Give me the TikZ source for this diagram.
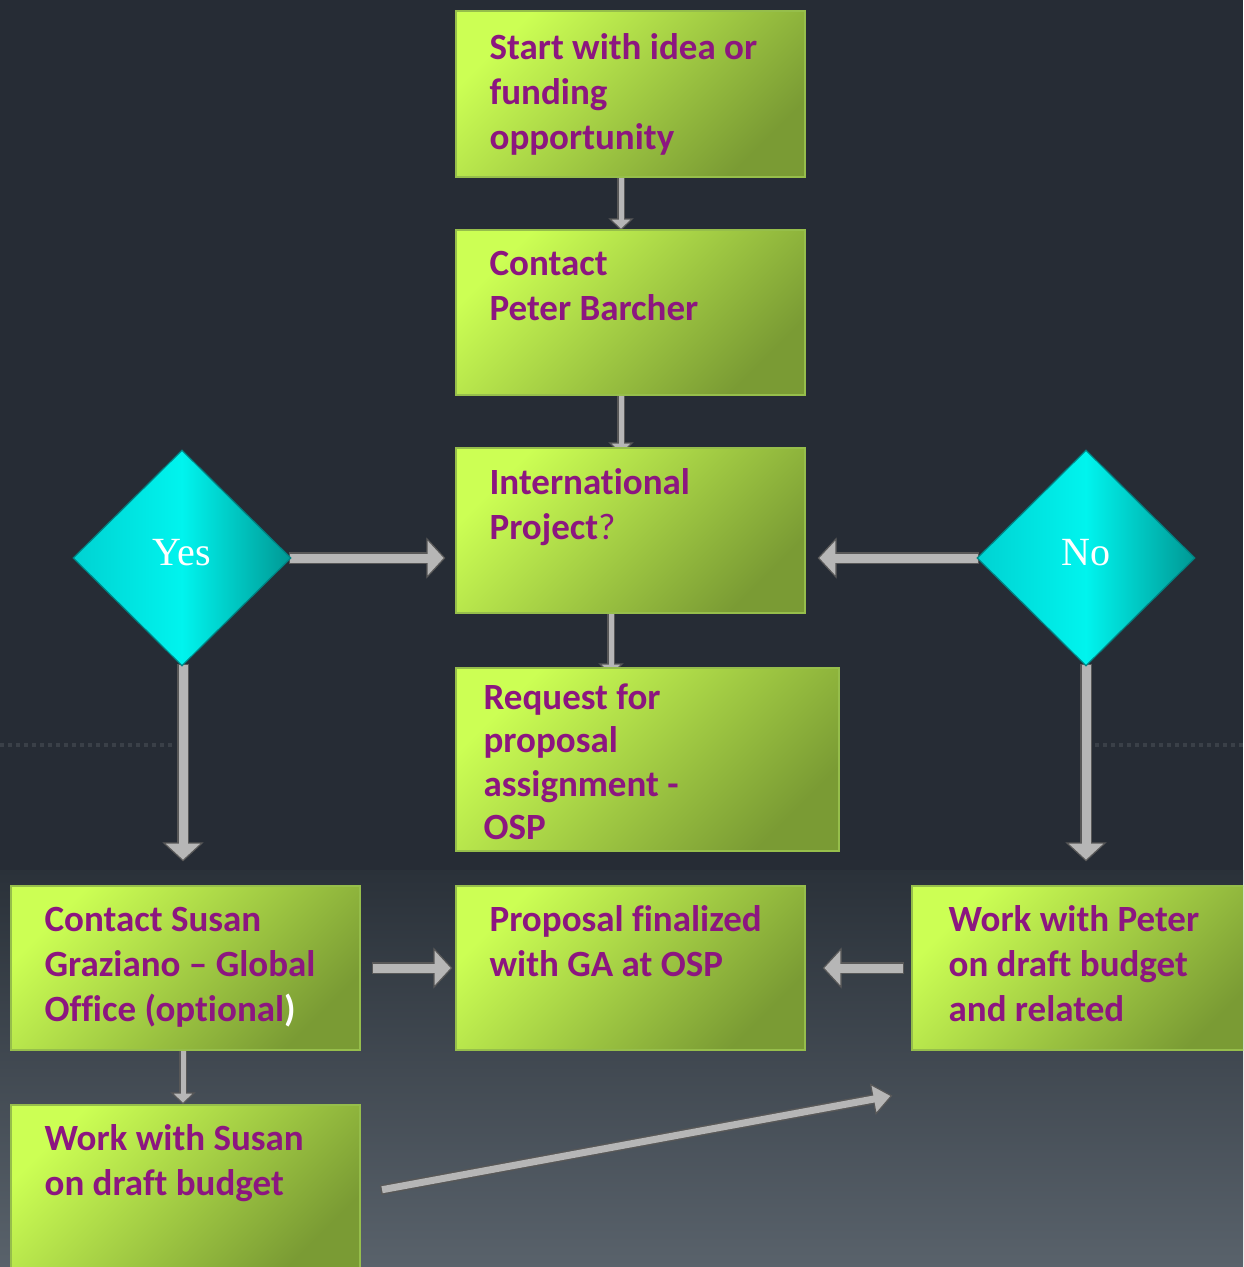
\documentclass[tikz,border=0pt]{standalone}
\usepackage{fontspec}
\setmainfont{Carlito}[Ligatures={TeX,NoCommon}]
\newfontfamily\serifyes{Liberation Serif}
\usetikzlibrary{shapes.geometric,arrows.meta,calc}
\pgfdeclarelayer{bglayer}
\pgfdeclarelayer{arrlayer}
\pgfsetlayers{bglayer,arrlayer,main}
\definecolor{bgdark}{RGB}{38,44,53}
\definecolor{bgmid}{RGB}{42,49,57}
\definecolor{bgbot}{RGB}{89,98,107}
\definecolor{dotc}{RGB}{58,64,72}
\definecolor{limeA}{RGB}{204,255,84}
\definecolor{limeB}{RGB}{122,155,52}
\definecolor{boxedge}{RGB}{150,190,75}
\definecolor{txtp}{RGB}{140,22,128}
\definecolor{cyanL}{RGB}{0,210,210}
\definecolor{cyanM}{RGB}{0,244,238}
\definecolor{cyanR}{RGB}{0,152,148}
\definecolor{cyanedge}{RGB}{0,130,130}
\definecolor{arrfill}{RGB}{182,182,182}
\definecolor{arredge}{RGB}{88,88,88}
\newcommand\barrow[6]{%
  \draw[arredge, line width=#1, -{Triangle[width=#3,length=#4,fill=arrfill,line width=1.2pt]}] #5 -- #6;
  \draw[arrfill, line width=#2, shorten <=1.5pt, shorten >=#4-3pt] #5 -- #6;}
\begin{document}
\begin{tikzpicture}[x=1pt,y=-1pt,
  box/.style={rectangle, draw=boxedge, line width=1.2pt, top color=limeA, bottom color=limeB, shading angle=45, inner sep=0pt},
  txt/.style={anchor=north west, inner sep=0pt, align=left, text=txtp, font=\fontsize{37}{45}\selectfont\bfseries},
  dia/.style={diamond, minimum width=218pt, minimum height=216pt, inner sep=0pt, left color=cyanL, right color=cyanR, middle color=cyanM, draw=cyanedge, line width=1.2pt, text=white, font=\serifyes\fontsize{40}{44}\selectfont, text height=27pt, text depth=13pt}
]
\useasboundingbox (0,0) rectangle (1243,1267);
\clip (0,0) rectangle (1243,1267);
% background
\begin{pgfonlayer}{bglayer}
\fill[bgdark] (0,0) rectangle (1243,871);
\shade[top color=bgmid, bottom color=bgbot] (0,870) rectangle (1243,1267);
\draw[dotc, line width=3.5pt, dash pattern=on 3.5pt off 4.5pt] (0,745) -- (175,745);
\draw[dotc, line width=3.5pt, dash pattern=on 3.5pt off 4.5pt] (1095,745) -- (1243,745);
\end{pgfonlayer}
% boxes
\node[box, minimum width=349pt, minimum height=166pt] (start) at (630.5,94) {};
\node[box, minimum width=349pt, minimum height=165pt] (contact) at (630.5,312.5) {};
\node[box, minimum width=349pt, minimum height=165pt] (intl) at (630.5,530.5) {};
\node[box, minimum width=383pt, minimum height=183pt] (request) at (647.5,759.5) {};
\node[box, minimum width=349pt, minimum height=164pt] (csusan) at (185.5,968) {};
\node[box, minimum width=349pt, minimum height=164pt] (prop) at (630.5,968) {};
\node[box, minimum width=349pt, minimum height=164pt] (wpeter) at (1086.5,968) {};
\node[box, minimum width=349pt, minimum height=166pt] (wsusan) at (185.5,1188) {};
% texts
\node[txt] (startt) at ([xshift=34pt,yshift=-17.5pt]start.north west) {\strut Start with idea or\\funding\\opportunity};
\node[txt] (contactt) at ([xshift=34pt,yshift=-14.5pt]contact.north west) {\strut Contact\\Peter Barcher};
\node[txt] (intlt) at ([xshift=34pt,yshift=-15.5pt]intl.north west) {\strut International\\Project{\mdseries ?}};
\node[txt, font=\fontsize{37}{43.5}\selectfont\bfseries] (requestt) at ([xshift=28pt,yshift=-11pt]request.north west) {\strut Request for\\proposal\\assignment -\\OSP};
\node[txt] (csusant) at ([xshift=34pt,yshift=-14.5pt]csusan.north west) {\strut Contact Susan\\Graziano – Global\\Office (optional{\color{white})}};
\node[txt] (propt) at ([xshift=34pt,yshift=-14.5pt]prop.north west) {\strut Proposal finalized\\with GA at OSP};
\node[txt] (wpetert) at ([xshift=37pt,yshift=-14.5pt]wpeter.north west) {\strut Work with Peter\\on draft budget\\and related};
\node[txt] (wsusant) at ([xshift=34pt,yshift=-14.5pt]wsusan.north west) {\strut Work with Susan\\on draft budget};
% diamonds
\node[dia] (yes) at (182,558) {Yes};
\node[dia] (no) at (1086,558) {No};
% arrows
\begin{pgfonlayer}{arrlayer}
\barrow{8pt}{5pt}{25pt}{12pt}{([xshift=-9.5pt,yshift=7pt]start.south)}{([xshift=-9.5pt,yshift=-1pt]contact.north)}
\barrow{8pt}{5pt}{25pt}{12pt}{([xshift=-9.5pt,yshift=1pt]contact.south)}{([xshift=-9.5pt,yshift=-7pt]intl.north)}
\barrow{8pt}{5pt}{25pt}{12pt}{([xshift=-19.5pt,yshift=1pt]intl.south)}{([xshift=-36.5pt,yshift=-8pt]request.north)}
\barrow{8pt}{5pt}{25pt}{12pt}{([xshift=-2.5pt,yshift=5pt]csusan.south)}{([xshift=-2.5pt]wsusan.north)}
\barrow{12pt}{9pt}{41pt}{19pt}{([xshift=-3pt]yes.east)}{($(intl.west |- yes.east)+(-10,0)$)}
\barrow{12pt}{9pt}{41pt}{19pt}{([xshift=3pt]no.west)}{($(intl.east |- no.west)+(12,0)$)}
\barrow{12pt}{9pt}{41pt}{19pt}{([xshift=1pt,yshift=3pt]yes.south)}{($(csusan.north -| yes.south)+(1,-24)$)}
\barrow{12pt}{9pt}{41pt}{19pt}{([yshift=3pt]no.south)}{($(wpeter.north -| no.south)+(0,-24)$)}
\barrow{12pt}{9pt}{41pt}{19pt}{($(csusan.east)+(11,0)$)}{($(prop.west)+(-3,0)$)}
\barrow{12pt}{9pt}{41pt}{19pt}{($(wpeter.west)+(-7,0)$)}{($(prop.east)+(17,0)$)}
\barrow{10pt}{7pt}{32pt}{20pt}{($(wsusan.east)+(20,2)$)}{($(wpeter.south west)+(-19,45)$)}
\end{pgfonlayer}
\end{tikzpicture}
\end{document}
